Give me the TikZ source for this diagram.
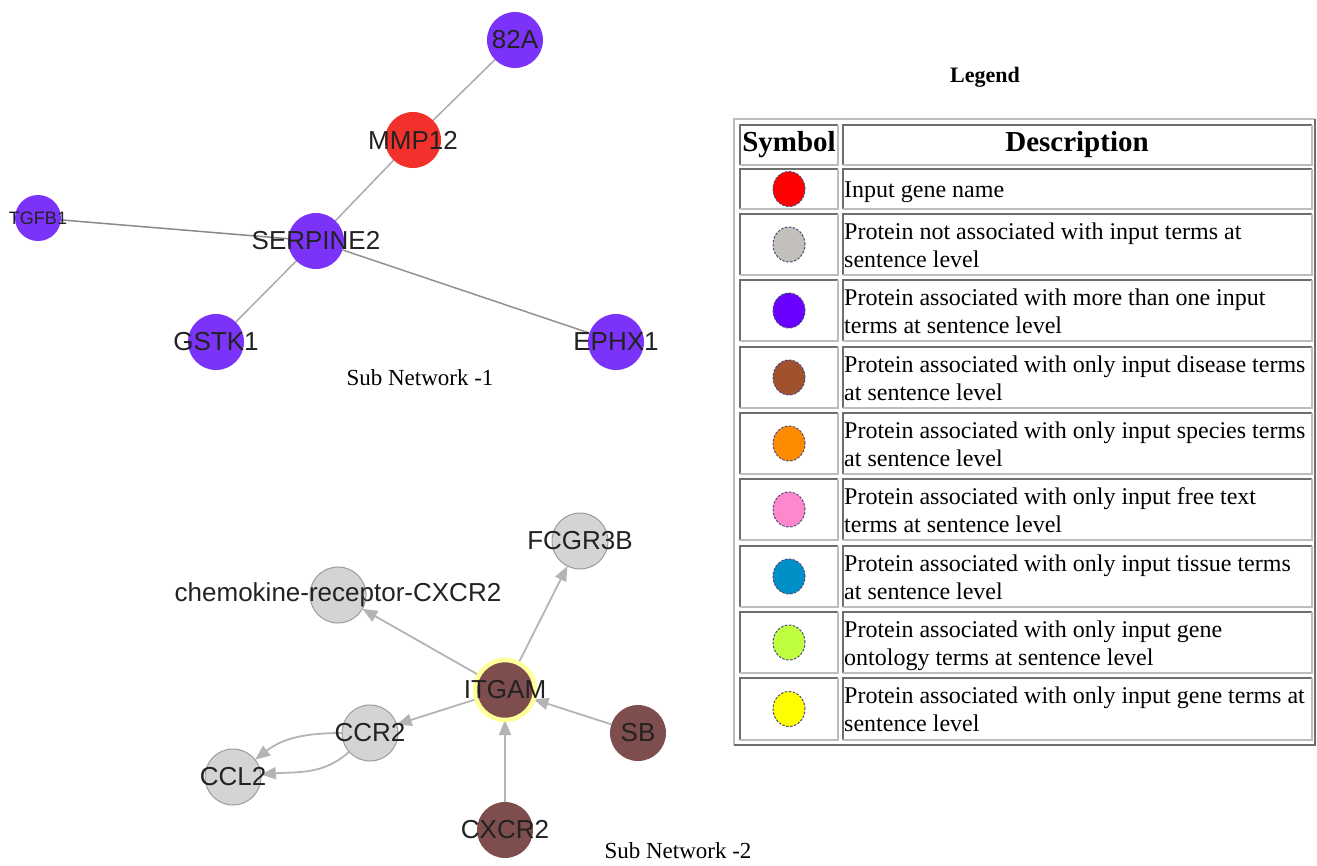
\documentclass[tikz,border=0pt]{standalone}
\usepackage{fontspec}
\setmainfont{Liberation Serif}
\newfontfamily\arialf{Liberation Sans}
\usetikzlibrary{arrows.meta,shapes.geometric}
\pgfdeclarelayer{bglayer}
\pgfdeclarelayer{edgelayer}
\pgfsetlayers{bglayer,edgelayer,main}
\definecolor{edgegray}{HTML}{ABABAB}
\definecolor{arrgray}{HTML}{B4B4B4}
\definecolor{netpurple}{HTML}{7B33FA}
\definecolor{netred}{HTML}{F2302C}
\definecolor{netgray}{HTML}{D4D4D4}
\definecolor{netgrayline}{HTML}{9C9C9C}
\definecolor{netbrown}{HTML}{7E4D4D}
\definecolor{ringyellow}{HTML}{FFFF9A}
\definecolor{lbltext}{HTML}{222222}
\definecolor{lgred}{HTML}{FF0000}
\definecolor{lggray}{HTML}{C3C0BB}
\definecolor{lgpurple}{HTML}{6A00FF}
\definecolor{lgbrown}{HTML}{A0522D}
\definecolor{lgorange}{HTML}{FF8C00}
\definecolor{lgpink}{HTML}{FF88CC}
\definecolor{lgblue}{HTML}{0090C8}
\definecolor{lglime}{HTML}{C0FF40}
\definecolor{lgyellow}{HTML}{FFFF00}
\definecolor{dashblue}{HTML}{4B4B7B}
\definecolor{celldark}{HTML}{6E6E6E}
\definecolor{celllight}{HTML}{BDBDBD}
\begin{document}
\begin{tikzpicture}[x=1pt,y=-1pt,
  gnode/.style={circle,minimum size=56pt,inner sep=0pt,outer sep=0pt},
  pnode/.style={gnode,fill=netpurple},
  rnode/.style={gnode,fill=netred},
  gynode/.style={gnode,fill=netgray,draw=netgrayline,line width=1pt},
  bnode/.style={gnode,fill=netbrown},
  lbl/.style={font=\arialf\fontsize{26}{30}\selectfont,text=lbltext,inner sep=0pt},
  slbl/.style={font=\arialf\fontsize{18}{20}\selectfont,text=lbltext,inner sep=0pt},
  edge/.style={draw=edgegray,line width=1.5pt},
  arr/.style={draw=arrgray,line width=1.8pt,-{Triangle[length=15pt,width=12pt]}},
  sym/.style={ellipse,minimum width=32pt,minimum height=35pt,inner sep=0pt,draw=dashblue,line width=1pt,dash pattern=on 2.5pt off 1.5pt},
  desc/.style={font=\fontsize{24}{28}\selectfont,anchor=north west,inner sep=0pt,align=left,text=black},
  head/.style={font=\bfseries\fontsize{29}{32}\selectfont,inner sep=0pt},
  caption/.style={font=\fontsize{23}{26}\selectfont,inner sep=0pt},
  dk/.style={draw=celldark,line width=1.6pt},
  lt/.style={draw=celllight,line width=1.6pt}]
\begin{pgfonlayer}{bglayer}
\fill[white] (0,0) rectangle (1317,865);
\end{pgfonlayer}
\useasboundingbox (0,0) rectangle (1317,865);

% ---------- Sub network 1 ----------
\node (a82)   [pnode, label={[lbl]center:82A}] at (515,40) {};
\node (mmp12) [rnode, label={[lbl]center:MMP12}] at (413,140) {};
\node (serp)  [pnode, label={[lbl]center:SERPINE2}] at (316,241) {};
\node (tgfb1) [pnode, minimum size=46pt, label={[slbl]center:TGFB1}] at (38,218) {};
\node (gstk1) [pnode, label={[lbl]center:GSTK1}] at (216,342) {};
\node (ephx1) [pnode, label={[lbl]center:EPHX1}] at (616,342) {};
\node (cap1) [caption] at (420,378) {Sub Network -1};

% ---------- Sub network 2 ----------
\node (fcgr)  [gynode, label={[lbl]center:FCGR3B}] at (580,541) {};
\node (chemo) [gynode, label={[lbl]center:chemokine-receptor-CXCR2}] at (338,595) {};
\node (itgam) [bnode, draw=ringyellow, line width=4.5pt, minimum size=60pt, label={[lbl]center:ITGAM}] at (505,690) {};
\node (ccr2)  [gynode, label={[lbl]center:CCR2}] at (370,733) {};
\node (ccl2)  [gynode, label={[lbl]center:CCL2}] at (233,777) {};
\node (sb)    [bnode, label={[lbl]center:SB}] at (638,733) {};
\node (cxcr2) [bnode, label={[lbl]center:CXCR2}] at (505,830) {};
\node (cap2) [caption] at (678,851) {Sub Network -2};

\begin{pgfonlayer}{edgelayer}
\draw[edge] (a82) -- (mmp12);
\draw[edge] (mmp12) -- (serp);
\draw[edge, draw=edgegray!80!black] (tgfb1) -- (serp);
\draw[edge] (serp) -- (gstk1);
\draw[edge, draw=edgegray!85!black] (serp) -- (ephx1);
\draw[arr] (itgam) -- (chemo);
\draw[arr] (itgam) -- (fcgr);
\draw[arr] (itgam) -- (ccr2);
\draw[arr] (sb) -- (itgam);
\draw[arr] (cxcr2) -- (itgam);
\draw[arr] (ccr2) to[out=180,in=38] (ccl2);
\draw[arr] (ccr2) to[out=222,in=5] (ccl2);
\end{pgfonlayer}

% ---------- Legend ----------
\node (legtitle) [font=\bfseries\fontsize{22}{24}\selectfont,inner sep=0pt] at (985,77) {Legend};
\draw[lt] (734,745) |- (1315,119);
\draw[dk] (734,745) -| (1315,119);
\foreach \t/\b in {125/165,169/209,214/275,280/341,347/408,413/474,479/540,546/607,612/673,678/740}{
  \draw[dk] (740,\b) |- (838,\t);
  \draw[lt] (740,\b) -| (838,\t);
  \draw[dk] (843,\b) |- (1312,\t);
  \draw[lt] (843,\b) -| (1312,\t);
}
\node (hsym)  [head] at (789,145) {Symbol};
\node (hdesc) [head] at (1077,145) {Description};

\node (s1) [sym, fill=lgred]    at (789,189) {};
\node (s2) [sym, fill=lggray]   at (789,244.5) {};
\node (s3) [sym, fill=lgpurple] at (789,310.5) {};
\node (s4) [sym, fill=lgbrown]  at (789,377.5) {};
\node (s5) [sym, fill=lgorange] at (789,443.5) {};
\node (s6) [sym, fill=lgpink]   at (789,509.5) {};
\node (s7) [sym, fill=lgblue]   at (789,576.5) {};
\node (s8) [sym, fill=lglime]   at (789,642.5) {};
\node (s9) [sym, fill=lgyellow] at (789,709) {};

\node (d1) [desc] at (844,177.4) {\strut Input gene name};
\node (d2) [desc] at (844,219.4) {\strut Protein not associated with input terms at\\sentence level};
\node (d3) [desc] at (844,285.4) {\strut Protein associated with more than one input\\terms at sentence level};
\node (d4) [desc] at (844,352.4) {\strut Protein associated with only input disease terms\\at sentence level};
\node (d5) [desc] at (844,418.4) {\strut Protein associated with only input species terms\\at sentence level};
\node (d6) [desc] at (844,484.4) {\strut Protein associated with only input free text\\terms at sentence level};
\node (d7) [desc] at (844,551.4) {\strut Protein associated with only input tissue terms\\at sentence level};
\node (d8) [desc] at (844,617.4) {\strut Protein associated with only input gene\\ontology terms at sentence level};
\node (d9) [desc] at (844,683.4) {\strut Protein associated with only input gene terms at\\sentence level};
\end{tikzpicture}
\end{document}
